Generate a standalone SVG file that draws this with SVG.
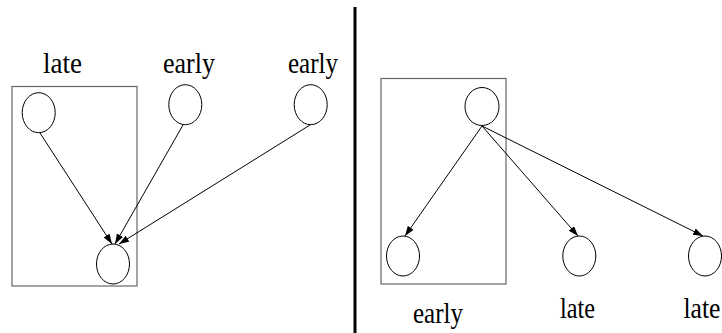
<svg xmlns="http://www.w3.org/2000/svg" width="722" height="333" viewBox="0 0 722 333">
<style>
.n{fill:#fff;stroke:#000;stroke-width:1}
.box{fill:none;stroke:#666;stroke-width:1.2}
.e{stroke:#000;stroke-width:1;fill:none;marker-end:url(#ah)}
.t{font-family:'Liberation Serif','Times New Roman',serif;font-size:30px;fill:#000;text-anchor:middle}
</style>
<defs>
<marker id="ah" markerUnits="userSpaceOnUse" markerWidth="11" markerHeight="8" refX="10" refY="3.5" orient="auto">
<path d="M0,0 L10,3.5 L0,7 z" fill="#000"/>
</marker>
</defs>
<rect x="0" y="0" width="722" height="333" fill="#fff"/>
<line x1="355" y1="7" x2="355" y2="333" stroke="#000" stroke-width="3"/>
<g id="box-left"><rect class="box" x="12" y="86.5" width="125" height="199.5"/></g>
<g id="box-right"><rect class="box" x="381" y="78.5" width="125" height="205.5"/></g>
<g id="connectors">
<line class="e" x1="40" y1="133" x2="112" y2="244"/>
<line class="e" x1="183" y1="125" x2="115" y2="244"/>
<line class="e" x1="310" y1="125" x2="119" y2="244"/>
<line class="e" x1="482" y1="126" x2="405" y2="236"/>
<line class="e" x1="482" y1="126" x2="578" y2="236"/>
<line class="e" x1="482" y1="126" x2="703" y2="236"/>
</g>
<g id="nodeA"><ellipse class="n" cx="38.7" cy="112.7" rx="16.5" ry="20"/></g>
<g id="nodeB"><ellipse class="n" cx="185.3" cy="104.7" rx="16.5" ry="20"/></g>
<g id="nodeC"><ellipse class="n" cx="310.7" cy="104.7" rx="16.5" ry="20"/></g>
<g id="nodeD"><ellipse class="n" cx="113" cy="264" rx="16.5" ry="20"/></g>
<g id="nodeE"><ellipse class="n" cx="482" cy="106.5" rx="17" ry="19"/></g>
<g id="nodeF"><ellipse class="n" cx="403" cy="256" rx="16.5" ry="20"/></g>
<g id="nodeG"><ellipse class="n" cx="579.3" cy="256" rx="16.5" ry="20"/></g>
<g id="nodeH"><ellipse class="n" cx="705" cy="256" rx="16.5" ry="20"/></g>
<g id="labels">
<text class="t" x="62.5" y="73" textLength="39" lengthAdjust="spacingAndGlyphs">late</text>
<text class="t" x="189" y="73" textLength="52" lengthAdjust="spacingAndGlyphs">early</text>
<text class="t" x="313" y="73" textLength="50" lengthAdjust="spacingAndGlyphs">early</text>
<text class="t" x="438" y="323" textLength="50" lengthAdjust="spacingAndGlyphs">early</text>
<text class="t" x="577.5" y="318" textLength="35" lengthAdjust="spacingAndGlyphs">late</text>
<text class="t" x="702" y="318" textLength="37" lengthAdjust="spacingAndGlyphs">late</text>
</g>
</svg>
